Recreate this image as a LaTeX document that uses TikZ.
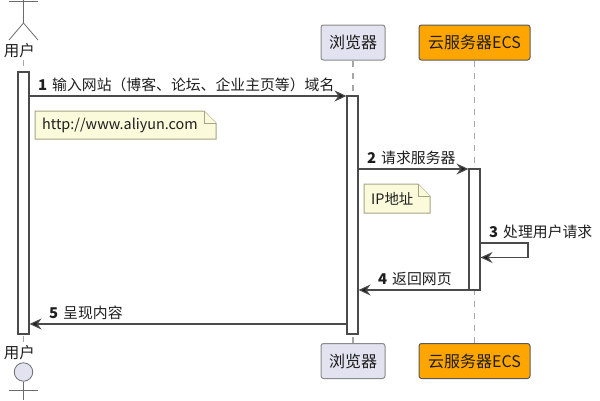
\documentclass[tikz,border=0pt]{standalone}
\usepackage{fontspec}
\setmainfont{Noto Sans CJK SC}
\usetikzlibrary{arrows.meta}
\definecolor{ink}{HTML}{1E1E1E}
\definecolor{wire}{HTML}{4A4A4A}
\definecolor{lifegrey}{HTML}{A6A6A6}
\definecolor{partfill}{HTML}{E2E2F0}
\definecolor{partline}{HTML}{8A8A8A}
\definecolor{serverfill}{HTML}{FFA500}
\definecolor{notefill}{HTML}{FBFBDC}
\definecolor{noteline}{HTML}{A5A582}
\tikzset{
  txt/.style={inner sep=0pt,text=ink,font=\fontsize{14.85pt}{16pt}\selectfont},
  lbl/.style={txt,anchor=west},
  actorlbl/.style={txt,font=\fontsize{15.5pt}{16pt}\selectfont},
  partbox/.style={draw=partline,line width=1pt,rounded corners=2.5pt,fill=partfill,inner sep=0pt,minimum height=35pt,text=ink,font=\fontsize{16pt}{17pt}\selectfont},
  serverbox/.style={partbox,minimum width=111pt,fill=serverfill,draw=gray!70!black},
  browserbox/.style={partbox,minimum width=64pt},
  lifeline/.style={draw=lifegrey,line width=1.1pt,dash pattern=on 6pt off 6pt},
  actbox/.style={draw=wire,line width=1.1pt,fill=white,inner sep=0pt,minimum width=11pt},
  msg/.style={draw=wire,line width=1.1pt,-{Stealth[length=12pt,width=11pt,inset=4pt,fill=ink]}},
  actorline/.style={draw=gray!85!black,line width=0.8pt},
  notebox/.style={draw=noteline,line width=1pt,fill=notefill,line join=miter},
  notetxt/.style={lbl,font=\fontsize{14.4pt}{16pt}\selectfont}
}
\begin{document}
\begin{tikzpicture}[x=1pt,y=-1pt]
\useasboundingbox (0,0) rectangle (600,400);
\clip (0,0) rectangle (600,400);

% Lifelines behind everything else
\coordinate (userTop) at (23.5,60);
\coordinate (userBot) at (23.5,344);
\draw[lifeline] (userTop) -- (userBot);
\node[browserbox] (browserTop) at (353,42.5) {浏览器};
\node[browserbox] (browserBot) at (353,361) {浏览器};
\node[serverbox] (serverTop) at (474.5,42.5) {云服务器ECS};
\node[serverbox] (serverBot) at (474.5,361) {云服务器ECS};
\draw[lifeline] (browserTop.south) -- (browserBot.north);
\draw[lifeline] (serverTop.south) -- (serverBot.north);

% Actor at the top, its head cut off by the page edge
\coordinate (armL) at (9,1);
\coordinate (armR) at (38,1);
\coordinate (neck) at (23.5,0);
\coordinate (hip) at (23.5,23);
\coordinate (footL) at (9,40);
\coordinate (footR) at (38,40);
\draw[actorline] (armL) -- (armR);
\draw[actorline] (neck) -- (hip) -- (footL);
\draw[actorline] (hip) -- (footR);
\node[actorlbl] (userLabelTop) at (19.5,51) {用户};

% Actor at the bottom
\node[actorlbl] (userLabelBot) at (19.5,353) {用户};
\node[draw=gray!85!black,line width=0.8pt,fill=partfill,circle,minimum size=18.5pt,inner sep=0pt] (head) at (23.5,372) {};
\coordinate (armL2) at (9,390);
\coordinate (armR2) at (38,390);
\coordinate (hip2) at (23.5,400);
\draw[actorline] (armL2) -- (armR2);
\draw[actorline] (head.south) -- (hip2);

% Activation bars
\node[actbox,minimum height=262pt] (actUser) at (23.5,203) {};
\node[actbox,minimum height=238pt] (actBrowser) at (352.5,215) {};
\node[actbox,minimum height=121pt] (actServer) at (474.5,229.5) {};

% Notes with a folded corner
\draw[notebox] (35,111) -- (204,111) -- (216,123) -- (216,139) -- (35,139) -- cycle;
\draw[notebox] (204,111) -- (204,123) -- (216,123);
\node[notetxt] (noteA) at (42,125) {http://www.aliyun.com};
\draw[notebox] (364,184) -- (418,184) -- (430,196) -- (430,213) -- (364,213) -- cycle;
\draw[notebox] (418,184) -- (418,196) -- (430,196);
\node[notetxt] (noteB) at (371,198.5) {IP地址};

% Messages
\coordinate (m1s) at (actUser.east |- 0,96);
\coordinate (m1e) at (actBrowser.west |- 0,96);
\draw[msg] (m1s) -- (m1e);
\node[lbl] (m1) at (38,85) {\textbf{1}\hspace{5pt}输入网站（博客、论坛、企业主页等）域名};

\coordinate (m2s) at (actBrowser.east |- 0,169);
\coordinate (m2e) at (actServer.west |- 0,169);
\draw[msg] (m2s) -- (m2e);
\node[lbl] (m2) at (367,158) {\textbf{2}\hspace{5pt}请求服务器};

\coordinate (m3s) at (actServer.east |- 0,243);
\coordinate (m3a) at (528,243);
\coordinate (m3b) at (528,257.5);
\coordinate (m3e) at (actServer.east |- 0,257.5);
\draw[msg] (m3s) -- (m3a) -- (m3b) -- (m3e);
\node[lbl] (m3) at (489,232) {\textbf{3}\hspace{5pt}处理用户请求};

\coordinate (m4s) at (actServer.west |- 0,290);
\coordinate (m4e) at (actBrowser.east |- 0,290);
\draw[msg] (m4s) -- (m4e);
\node[lbl] (m4) at (378,279) {\textbf{4}\hspace{5pt}返回网页};

\coordinate (m5s) at (actBrowser.west |- 0,324);
\coordinate (m5e) at (actUser.east |- 0,324);
\draw[msg] (m5s) -- (m5e);
\node[lbl] (m5) at (49,313) {\textbf{5}\hspace{5pt}呈现内容};
\end{tikzpicture}
\end{document}
